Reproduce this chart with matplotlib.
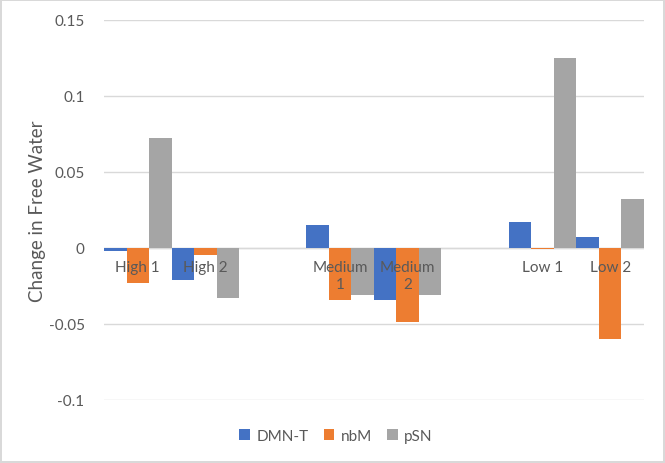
import matplotlib.pyplot as plt
import numpy as np

categories = ["High 1", "High 2", "", "Medium\n1", "Medium\n2", "", "Low 1", "Low 2"]
series = ["DMN-T", "nbM", "pSN"]
dmn_t = [-0.002, -0.021, np.nan, 0.015, -0.034, np.nan, 0.017, 0.007]
nbm = [-0.023, -0.005, np.nan, -0.034, -0.049, np.nan, -0.001, -0.060]
psn = [0.072, -0.033, np.nan, -0.031, -0.031, np.nan, 0.125, 0.032]
yticks = [-0.1, -0.05, 0, 0.05, 0.1, 0.15]
ytick_labels = ["-0.1", "-0.05", "0", "0.05", "0.1", "0.15"]

colors = ["#4472C4", "#ED7D31", "#A5A5A5"]
txt = "#595959"
plt.rcParams['font.family'] = ['Lato', 'DejaVu Sans']

fig = plt.figure(figsize=(6.65, 4.64), dpi=100)
fig.patch.set_edgecolor("#d9d9d9")
fig.patch.set_linewidth(1.5)
ax = fig.add_axes([0.1564, 0.1358, 0.812, 0.8196])

x = np.arange(len(categories))
w = 1 / 3
for k, (name, vals) in enumerate(zip(series, [dmn_t, nbm, psn])):
    ax.bar(x + (k - 1) * w, vals, width=w, color=colors[k], label=name, zorder=2)

ax.set_xlim(-0.5, len(categories) - 0.5)
ax.set_ylim(-0.1, 0.15)
ax.set_yticks(yticks)
ax.set_yticklabels(ytick_labels)
ax.tick_params(axis='y', length=0, pad=14, labelsize=11, labelcolor=txt)
ax.set_xticks([])
ax.grid(axis='y', color="#d9d9d9", linewidth=1, zorder=0)
ax.axhline(0, color="#d9d9d9", linewidth=1, zorder=1)
for s in ax.spines.values():
    s.set_visible(False)

for i, lab in enumerate(categories):
    if lab:
        ax.annotate(lab, (i, 0), xytext=(0, -9), textcoords='offset points',
                    ha='center', va='top', fontsize=11, color=txt,
                    linespacing=1.25, zorder=3)

ax.set_ylabel("Change in Free Water", fontsize=13.5, color=txt, labelpad=2)

fig.legend(loc='center', bbox_to_anchor=(0.505, 0.058), ncol=3, frameon=False,
           handlelength=0.7, handleheight=0.7, handletextpad=0.4,
           columnspacing=1.0, fontsize=11, labelcolor=txt)

fig.savefig("out.png", dpi=100)
